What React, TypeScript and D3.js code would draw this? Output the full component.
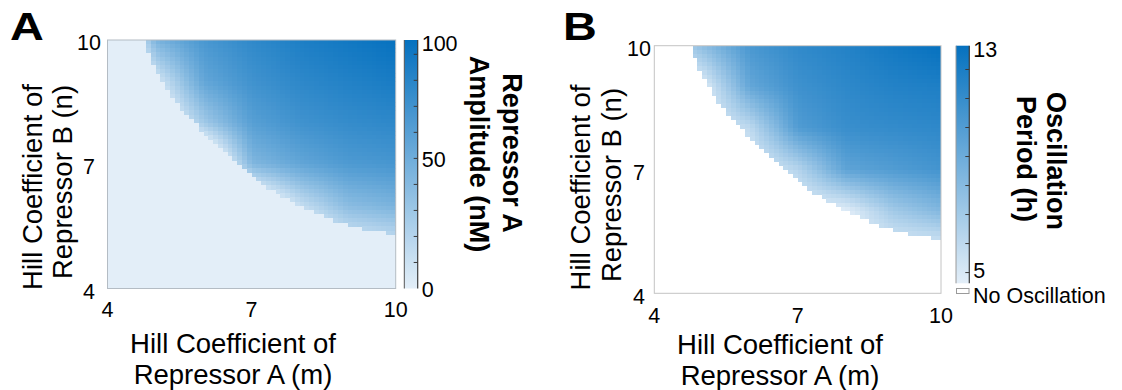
import React from "react";
import * as d3 from "d3";

const FONT = "'Liberation Sans', Arial, Helvetica, sans-serif";

// ---------- data ----------
const hillTicks = [4, 7, 10];
const anchorM = [4, 5, 6, 7, 8, 9, 10];
const anchorN = [10, 9, 8, 7, 6, 5, 4];
const cellStep = 0.1;

// smallest m that oscillates, for each 0.1-high row of n starting at n = 10 and going down
const oscBoundaryM = [
  4.78, 4.81, 4.84, 4.87, 4.91, 4.95, 4.99, 5.03, 5.07, 5.12,
  5.17, 5.22, 5.28, 5.34, 5.4, 5.47, 5.54, 5.62, 5.7, 5.78,
  5.87, 5.95, 6.04, 6.13, 6.22, 6.31, 6.4, 6.49, 6.57, 6.66,
  6.77, 6.88, 6.99, 7.1, 7.22, 7.35, 7.49, 7.63, 7.78, 7.93,
  8.09, 8.29, 8.5, 8.73, 9.03, 9.35, 9.8,
];

// Repressor A amplitude (nM) at anchor points (rows n = 10..4, cols m = 4..10)
const amplitudeA = [
  [-60, 45, 66, 77, 85, 90, 95],
  [-60, 5, 55, 70, 78, 83, 87],
  [-60, -20, 28, 60, 70, 75, 78],
  [-60, -40, -40, 42, 55, 64, 67],
  [-60, -40, -40, -30, 12, 38, 45],
  [-60, -40, -40, -30, -20, 0, 8],
  [-60, -40, -40, -30, -20, 0, 0],
];

// Oscillation period (h) at anchor points (rows n = 10..4, cols m = 4..10)
const periodB = [
  [4.6, 7.8, 10.3, 11.2, 11.7, 12.3, 12.8],
  [4.6, 4.6, 9.3, 10.7, 11.3, 11.7, 11.9],
  [4.6, 4.6, 6.0, 10.0, 10.9, 11.1, 11.3],
  [4.6, 4.6, 4.6, 6.3, 9.5, 10.0, 10.5],
  [4.6, 4.6, 4.6, 4.6, 4.6, 7.0, 8.2],
  [4.6, 4.6, 4.6, 4.6, 4.6, 4.6, 4.6],
  [4.6, 4.6, 4.6, 4.6, 4.6, 4.6, 4.6],
];

const ampColorDomain = [0, 95.5];
const ampMinorTicks = [10, 20, 30, 40, 50, 60, 70, 80, 90];
const ampTickLabels = [
  { value: 0, label: "0" },
  { value: 50, label: "50" },
  { value: 95.5, label: "100" },
];

const periodColorDomain = [4.63, 12.82];
const periodMinorTicks = [5, 6, 7, 8, 9, 10, 11, 12];
const periodTickLabels = [
  { value: 5, label: "5" },
  { value: 12.82, label: "13" },
];

const xTitleLines = ["Hill Coefficient of", "Repressor A (m)"];
const yTitleLines = ["Hill Coefficient of", "Repressor B (n)"];

const LIGHT = "#e3eef8";
const DARK = "#0571bf";

// ---------- helpers ----------
const mIndex = d3.scaleLinear().domain([anchorM[0], anchorM[anchorM.length - 1]]).range([0, anchorM.length - 1]);
const nIndex = d3.scaleLinear().domain([anchorN[0], anchorN[anchorN.length - 1]]).range([0, anchorN.length - 1]);

function sampleGrid(grid: number[][], m: number, n: number) {
  const fi = mIndex(m);
  const fj = nIndex(n);
  const i0 = Math.min(anchorM.length - 2, Math.max(0, Math.floor(fi)));
  const j0 = Math.min(anchorN.length - 2, Math.max(0, Math.floor(fj)));
  const tx = fi - i0;
  const ty = fj - j0;
  const top = d3.interpolateNumber(grid[j0][i0], grid[j0][i0 + 1])(tx);
  const bot = d3.interpolateNumber(grid[j0 + 1][i0], grid[j0 + 1][i0 + 1])(tx);
  return d3.interpolateNumber(top, bot)(ty);
}

type PanelProps = {
  id: string;
  letter: string;
  letterX: number;
  box: { x0: number; x1: number; y0: number; y1: number };
  cb: { x0: number; x1: number; y0: number; y1: number };
  grid: number[][];
  colorDomain: number[];
  minorTicks: number[];
  tickLabels: { value: number; label: string }[];
  cbLabelDy: number;
  offColor: string | null;
  borderColor: string;
  cbLeftColor: string;
  cbTitle: string[];
  cbTitleX: number[];
  cbTitleY: number[];
  yTickX: number;
  yTickDy: number;
  xTickBaseline: number;
  xTitleX: number;
  xTitleBaselines: number[];
  yTitleXs: number[];
  yTitleYs: number[];
};

function Panel(p: PanelProps) {
  const x = d3.scaleLinear().domain([4, 10]).range([p.box.x0, p.box.x1]);
  const y = d3.scaleLinear().domain([4, 10]).range([p.box.y1, p.box.y0]);
  const color = d3
    .scaleSequential(d3.interpolateRgb(LIGHT, DARK))
    .domain(p.colorDomain as [number, number])
    .clamp(true);
  const cbScale = d3.scaleLinear().domain(p.colorDomain).range([p.cb.y1, p.cb.y0]);

  const nCells = Math.round(6 / cellStep);
  const cells: { x: number; y: number; w: number; h: number; c: string }[] = [];
  d3.range(nCells).forEach((k) => {
    const nTop = 10 - k * cellStep;
    const nc = nTop - cellStep / 2;
    const thr = k < oscBoundaryM.length ? oscBoundaryM[k] : Infinity;
    d3.range(nCells).forEach((i) => {
      const mLeft = 4 + i * cellStep;
      const mc = mLeft + cellStep / 2;
      if (mc < thr) return;
      const v = sampleGrid(p.grid, mc, nc);
      const x0 = x(mLeft);
      const y0 = y(nTop);
      cells.push({
        x: x0,
        y: y0,
        w: x(mLeft + cellStep) - x0 + 0.4,
        h: y(nTop - cellStep) - y0 + 0.4,
        c: color(v),
      });
    });
  });

  const gradId = `grad-${p.id}`;
  const clipId = `clip-${p.id}`;
  const stops = d3.range(0, 1.0001, 0.1);

  return (
    <g>
      <defs>
        <linearGradient id={gradId} x1="0" y1="1" x2="0" y2="0">
          {stops.map((s) => (
            <stop
              key={s}
              offset={s}
              stopColor={color(p.colorDomain[0] + s * (p.colorDomain[1] - p.colorDomain[0]))}
            />
          ))}
        </linearGradient>
        <clipPath id={clipId}>
          <rect x={p.box.x0} y={p.box.y0} width={p.box.x1 - p.box.x0} height={p.box.y1 - p.box.y0} />
        </clipPath>
      </defs>

      {/* panel letter */}
      <text
        transform={`translate(${p.letterX},39.5) scale(1.2,1)`}
        fontFamily={FONT}
        fontWeight="bold"
        fontSize={39}
        fill="#000"
      >
        {p.letter}
      </text>

      {/* heatmap */}
      <rect
        x={p.box.x0}
        y={p.box.y0}
        width={p.box.x1 - p.box.x0}
        height={p.box.y1 - p.box.y0}
        fill={p.offColor ?? color(p.colorDomain[0])}
      />
      <g clipPath={`url(#${clipId})`} shapeRendering="crispEdges">
        {cells.map((c, idx) => (
          <rect key={idx} x={c.x} y={c.y} width={c.w} height={c.h} fill={c.c} />
        ))}
      </g>
      <rect
        x={p.box.x0}
        y={p.box.y0}
        width={p.box.x1 - p.box.x0}
        height={p.box.y1 - p.box.y0}
        fill="none"
        stroke={p.borderColor}
        strokeWidth={1}
      />

      {/* tick labels */}
      {hillTicks.map((t) => (
        <text
          key={`xt${t}`}
          x={x(t)}
          y={p.xTickBaseline}
          textAnchor="middle"
          fontFamily={FONT}
          fontSize={21.5}
        >
          {t}
        </text>
      ))}
      {hillTicks.map((t) => (
        <text
          key={`yt${t}`}
          x={p.yTickX}
          y={y(t) + p.yTickDy}
          textAnchor="middle"
          fontFamily={FONT}
          fontSize={21.5}
        >
          {t}
        </text>
      ))}

      {/* axis titles */}
      {xTitleLines.map((s, i) => (
        <text
          key={`xl${i}`}
          x={p.xTitleX}
          y={p.xTitleBaselines[i]}
          textAnchor="middle"
          fontFamily={FONT}
          fontSize={27.5}
        >
          {s}
        </text>
      ))}
      {yTitleLines.map((s, i) => (
        <text
          key={`yl${i}`}
          transform={`translate(${p.yTitleXs[i]},${p.yTitleYs[i]}) rotate(-90)`}
          textAnchor="middle"
          fontFamily={FONT}
          fontSize={27.5}
        >
          {s}
        </text>
      ))}

      {/* colorbar */}
      <rect
        x={p.cb.x0}
        y={p.cb.y0}
        width={p.cb.x1 - p.cb.x0}
        height={p.cb.y1 - p.cb.y0}
        fill={`url(#${gradId})`}
      />
      <line x1={p.cb.x0} x2={p.cb.x0} y1={p.cb.y0} y2={p.cb.y1} stroke={p.cbLeftColor} strokeWidth={1} />
      <line x1={p.cb.x1} x2={p.cb.x1} y1={p.cb.y0} y2={p.cb.y1} stroke="#3a3a3a" strokeWidth={1.2} />
      {p.minorTicks.map((t) => (
        <line
          key={`mt${t}`}
          x1={p.cb.x1 - 4}
          x2={p.cb.x1}
          y1={cbScale(t)}
          y2={cbScale(t)}
          stroke="#3a3a3a"
          strokeWidth={1}
        />
      ))}
      {p.tickLabels.map((t) => (
        <text
          key={`cl${t.label}`}
          x={p.cb.x1 + 4}
          y={Math.max(cbScale(t.value) + p.cbLabelDy, p.cb.y0 + 11)}
          fontFamily={FONT}
          fontSize={21.5}
        >
          {t.label}
        </text>
      ))}
      {p.cbTitle.map((s, i) => (
        <text
          key={`ct${i}`}
          transform={`translate(${p.cbTitleX[i]},${p.cbTitleY[i]}) rotate(90)`}
          textAnchor="middle"
          fontFamily={FONT}
          fontWeight="bold"
          fontSize={27}
        >
          {s}
        </text>
      ))}
    </g>
  );
}

export default function App() {
  return (
    <svg
      width={1122}
      height={390}
      viewBox="0 0 1122 390"
      style={{ position: "absolute", left: 0, top: 0, background: "#fff" }}
    >
      <rect x={0} y={0} width={1122} height={390} fill="#fff" />
      <Panel
        id="A"
        letter="A"
        letterX={10}
        box={{ x0: 107.5, x1: 395.7, y0: 40, y1: 288.5 }}
        cb={{ x0: 404.3, x1: 417.7, y0: 40, y1: 288.5 }}
        grid={amplitudeA}
        colorDomain={ampColorDomain}
        minorTicks={ampMinorTicks}
        tickLabels={ampTickLabels}
        cbLabelDy={8.5}
        offColor={null}
        borderColor="#b4bcc4"
        cbLeftColor="#555"
        cbTitle={["Repressor A", "Amplitude (nM)"]}
        cbTitleX={[503, 470]}
        cbTitleY={[153, 154]}
        yTickX={89}
        yTickDy={10}
        xTickBaseline={317}
        xTitleX={233}
        xTitleBaselines={[352.7, 384]}
        yTitleXs={[41.5, 72]}
        yTitleYs={[187, 182]}
      />
      <Panel
        id="B"
        letter="B"
        letterX={563}
        box={{ x0: 654.3, x1: 941, y0: 45.7, y1: 293.3 }}
        cb={{ x0: 956, x1: 969.3, y0: 45.7, y1: 283.3 }}
        grid={periodB}
        colorDomain={periodColorDomain}
        minorTicks={periodMinorTicks}
        tickLabels={periodTickLabels}
        cbLabelDy={5.5}
        offColor="#ffffff"
        borderColor="#c4c4c4"
        cbLeftColor="#9a9a9a"
        cbTitle={["Oscillation", "Period (h)"]}
        cbTitleX={[1047, 1017]}
        cbTitleY={[161, 159]}
        yTickX={639}
        yTickDy={10.5}
        xTickBaseline={322.5}
        xTitleX={780}
        xTitleBaselines={[354, 385]}
        yTitleXs={[590, 620.5]}
        yTitleYs={[187.5, 185]}
      />
      {/* No Oscillation legend box */}
      <rect x={956.5} y={288.5} width={12.5} height={5} fill="#fff" stroke="#9a9a9a" strokeWidth={1} />
      <text x={973} y={302.5} fontFamily={FONT} fontSize={21.5}>
        No Oscillation
      </text>
    </svg>
  );
}
